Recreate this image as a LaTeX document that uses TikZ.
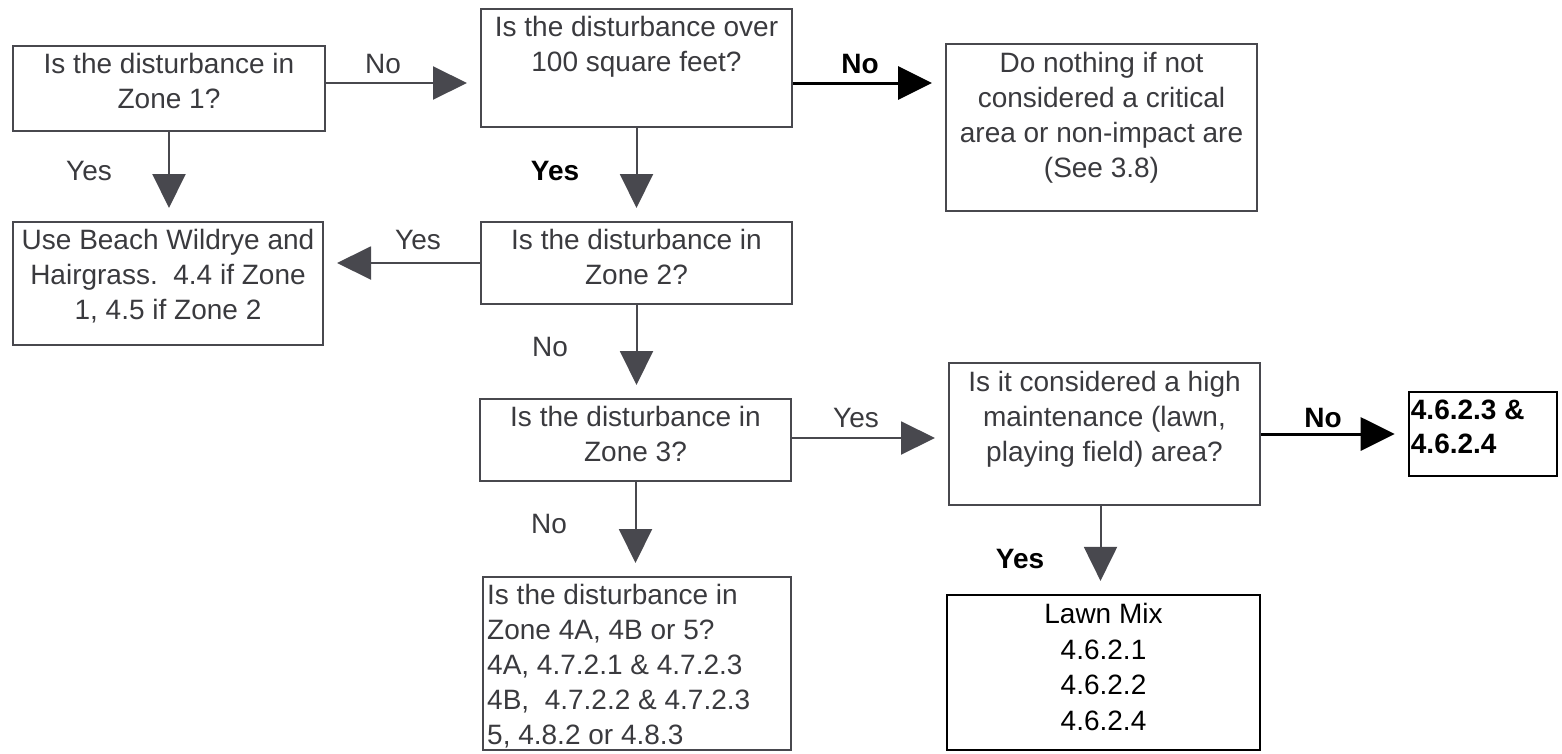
\documentclass[tikz,border=0pt]{standalone}
\usepackage{fontspec}
\setmainfont{Liberation Sans}
\usetikzlibrary{arrows.meta,calc}
\definecolor{ink}{RGB}{72,72,78}
\definecolor{txt}{RGB}{58,58,62}
\begin{document}
\begin{tikzpicture}[x=1pt,y=-1pt,
  box/.style={draw=ink,line width=2pt,inner sep=0pt},
  bbox/.style={draw=black,line width=2.6pt,inner sep=0pt},
  t/.style={font=\fontsize{28pt}{35pt}\selectfont,text=txt,align=center,inner sep=0pt,anchor=north},
  lab/.style={font=\fontsize{28pt}{35pt}\selectfont,text=txt,anchor=base,inner sep=0pt},
  blab/.style={lab,text=black,font=\fontsize{28pt}{35pt}\selectfont\bfseries},
  arr/.style={draw=ink,line width=2pt,shorten >=13pt,-{Triangle[length=34pt,width=33pt]}},
  barr/.style={draw=black,line width=3pt,shorten >=13pt,-{Triangle[length=34pt,width=33pt]}}]
\useasboundingbox (0,0) rectangle (1562,753);
% boxes
\node[box,minimum width=312pt,minimum height=85pt] (z1) at (169,88.5) {};
\node[t] (z1t) at ([yshift=-8pt]z1.north) {Is the disturbance in\\Zone 1?};
\node[box,minimum width=311pt,minimum height=118pt] (over) at (636.5,68) {};
\node[t] (overt) at ([yshift=-8pt]over.north) {Is the disturbance over\\100 square feet?};
\node[box,minimum width=311pt,minimum height=167pt] (nothing) at (1101.5,127.5) {};
\node[t] (nothingt) at ([yshift=-9pt]nothing.north) {Do nothing if not\\considered a critical\\area or non-impact are\\(See 3.8)};
\node[box,minimum width=310pt,minimum height=123pt] (beach) at (168,283.5) {};
\node[t] (beacht) at ([yshift=-8pt]beach.north) {Use Beach Wildrye and\\Hairgrass.\ \ 4.4 if Zone\\1, 4.5 if Zone 2};
\node[box,minimum width=311pt,minimum height=82pt] (z2) at (636.5,263) {};
\node[t] (z2t) at ([yshift=-8pt]z2.north) {Is the disturbance in\\Zone 2?};
\node[box,minimum width=311pt,minimum height=82pt] (z3) at (635.5,440) {};
\node[t] (z3t) at ([yshift=-8pt]z3.north) {Is the disturbance in\\Zone 3?};
\node[box,minimum width=308pt,minimum height=173pt] (z4) at (637,663.5) {};
\node[t,align=left,anchor=north west] (z4t) at ([xshift=5pt,yshift=-8pt]z4.north west) {Is the disturbance in\\Zone 4A, 4B or 5?\\4A, 4.7.2.1 \& 4.7.2.3\\4B,\ \ 4.7.2.2 \& 4.7.2.3\\5, 4.8.2 or 4.8.3};
\node[box,minimum width=311pt,minimum height=142pt] (hm) at (1104.5,434) {};
\node[t] (hmt) at ([yshift=-9pt]hm.north) {Is it considered a high\\maintenance (lawn,\\playing field) area?};
\node[bbox,minimum width=148pt,minimum height=84pt] (res) at (1483,434) {};
\node[t,align=left,anchor=north west,text=black,font=\fontsize{28pt}{34pt}\selectfont\bfseries] (rest) at ([xshift=3pt,yshift=-9pt]res.north west) {4.6.2.3 \&\\4.6.2.4};
\node[bbox,line width=2.2pt,minimum width=313pt,minimum height=155pt] (lawn) at (1103.5,672.5) {};
\node[t,text=black,font=\fontsize{28pt}{35.7pt}\selectfont] (lawnt) at ([yshift=-9pt]lawn.north) {Lawn Mix\\4.6.2.1\\4.6.2.2\\4.6.2.4};
% connectors
\coordinate (a1) at ([yshift=5.5pt]z1.east);
\draw[arr] (a1) -- (a1 -| over.west);
\coordinate (a2) at ([yshift=-15pt]over.east);
\draw[barr] (a2) -- (a2 -| nothing.west);
\draw[arr] (z1.south) -- (z1.south |- beach.north);
\draw[arr] (over.south) -- (over.south |- z2.north);
\draw[arr] (z2.west) -- (z2.west -| beach.east);
\draw[arr] (z2.south) -- (z2.south |- z3.north);
\coordinate (a3) at ([yshift=2pt]z3.east);
\draw[arr] (a3) -- (a3 -| hm.west);
\draw[arr] (z3.south) -- (z3.south |- z4.north);
\draw[barr] (hm.east) -- (hm.east -| res.west);
\coordinate (a4) at ([xshift=-4pt]hm.south);
\draw[arr] (a4) -- (a4 |- lawn.north);
% labels
\node[lab] (l1) at (383,73) {No};
\node[blab] (l2) at (860,73) {No};
\node[lab] (l3) at (89,180) {Yes};
\node[blab] (l4) at (555,180) {Yes};
\node[lab] (l5) at (418,249) {Yes};
\node[lab] (l6) at (550,356) {No};
\node[lab] (l7) at (856,427) {Yes};
\node[lab] (l8) at (549,533) {No};
\node[blab] (l9) at (1323,427) {No};
\node[blab] (l10) at (1020,568) {Yes};
\end{tikzpicture}
\end{document}
